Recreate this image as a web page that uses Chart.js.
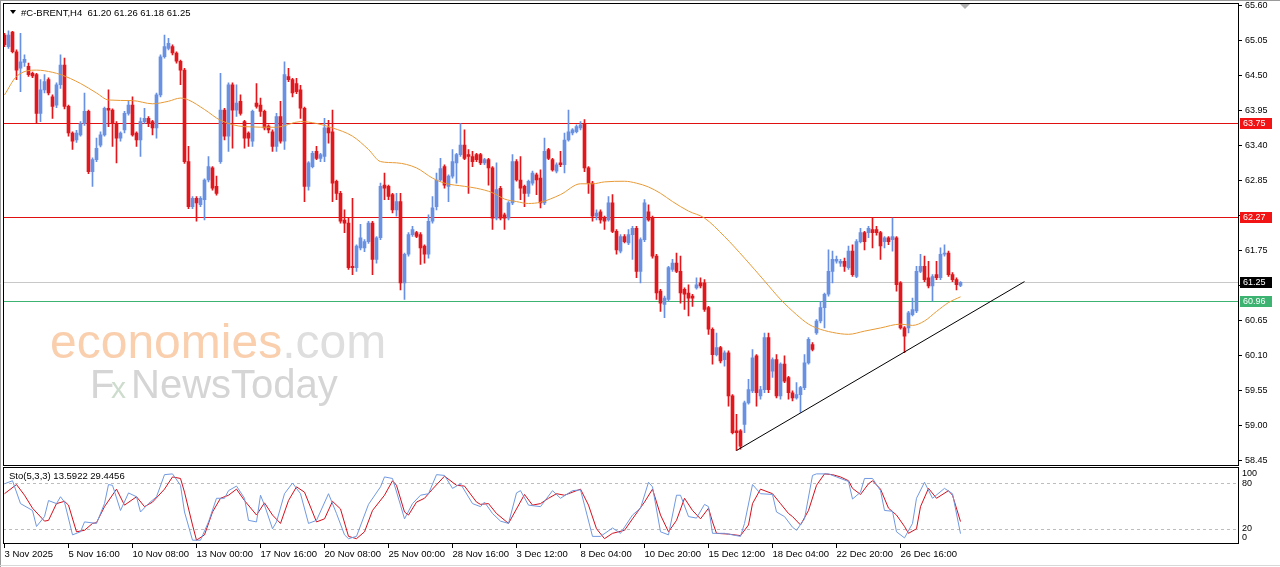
<!DOCTYPE html>
<html>
<head>
<meta charset="utf-8">
<script src="https://cdn.jsdelivr.net/npm/chart.js@4.4.1/dist/chart.umd.min.js"></script>
<style>
html, body { margin: 0; padding: 0; background: #fff; }
#chart { display: block; }
</style>
</head>
<body>
<canvas id="chart" width="1280" height="567"></canvas>
<script>
// H4 candles, index 0 = 3 Nov 2025 00:00
const opens = [
  65.14,64.96,65.19,64.88,64.62,64.71,64.65,64.54,64.52,63.91,
  64.28,64.44,64.17,64.04,64.36,64.67,64.02,63.60,63.49,63.57,
  63.75,63.94,62.99,63.18,63.41,63.57,63.99,63.96,63.75,63.52,
  63.65,63.91,64.04,63.60,63.49,63.78,63.83,63.78,63.68,64.20,
  64.80,64.93,64.96,64.86,64.73,64.59,63.15,62.44,62.57,62.47,
  62.55,62.86,63.05,62.76,63.15,63.96,63.55,64.36,63.96,64.10,
  63.78,63.60,63.47,64.07,64.04,63.94,63.71,63.62,63.39,63.86,
  63.47,64.49,64.44,64.38,64.28,63.99,62.76,63.07,63.31,63.20,
  63.23,63.68,63.62,62.84,62.65,62.23,62.18,61.50,61.48,61.79,
  61.79,61.89,62.18,61.61,61.95,62.78,62.76,62.63,62.39,62.52,
  61.24,61.69,62.00,62.03,62.00,61.82,61.69,62.21,62.44,62.86,
  63.07,62.76,62.92,63.13,63.26,63.41,63.26,63.23,63.26,63.26,
  63.13,63.18,63.05,62.26,62.73,62.31,62.26,62.50,63.15,62.86,
  62.76,62.65,62.81,62.94,62.89,62.50,63.34,63.18,63.00,63.13,
  63.10,63.49,63.60,63.62,63.68,63.75,63.05,62.81,62.29,62.36,
  62.26,62.23,62.50,62.05,61.74,61.97,61.87,62.00,62.10,61.42,
  61.92,62.36,62.26,61.66,61.11,60.90,60.98,61.45,61.55,61.42,
  61.14,61.08,61.03,61.16,61.24,61.24,60.85,60.51,60.11,60.22,
  60.03,60.14,59.46,58.91,58.91,59.01,59.35,59.54,60.09,59.46,
  59.56,60.38,59.85,60.03,59.46,59.96,59.75,59.51,59.43,59.48,
  59.59,59.98,60.27,60.45,60.64,60.85,61.06,61.42,61.58,61.55,
  61.58,61.48,61.74,61.34,61.89,62.03,62.03,62.08,62.08,62.03,
  61.89,61.95,61.92,61.95,61.24,60.53,60.53,60.74,60.80,61.42,
  61.50,61.32,61.19,61.37,61.32,61.69,61.71,61.37,61.29,61.20
];
const highs = [
  65.17,65.21,65.20,64.91,65.17,64.83,64.70,64.56,64.54,64.44,
  64.52,64.47,64.20,64.39,64.83,64.78,64.04,63.62,63.64,63.78,
  64.23,63.96,63.21,63.52,63.62,64.01,64.28,63.98,63.78,63.62,
  63.94,64.10,64.17,63.62,63.84,63.99,63.86,63.80,64.23,64.83,
  65.14,65.09,64.99,64.88,64.75,64.62,63.39,62.60,62.60,62.60,
  62.88,63.23,63.07,62.92,64.54,63.99,64.39,64.39,64.36,64.20,
  63.80,63.62,63.96,64.38,64.15,63.96,63.73,63.65,63.91,64.10,
  64.72,64.62,64.46,64.46,64.35,64.01,63.15,63.31,63.39,63.28,
  63.83,63.80,63.96,62.86,62.68,62.39,62.26,62.57,61.84,62.16,
  61.92,62.21,62.21,61.97,62.81,62.97,62.78,62.65,62.65,62.65,
  61.71,62.03,62.13,62.05,62.03,61.84,62.31,62.60,62.97,63.20,
  63.10,62.94,63.34,63.28,63.75,63.65,63.34,63.31,63.28,63.28,
  63.20,63.20,63.07,63.13,62.76,62.34,62.52,63.26,63.18,63.23,
  62.78,62.86,63.00,62.97,63.02,63.52,63.36,63.20,63.13,63.31,
  63.60,63.96,63.67,63.73,63.78,63.81,63.07,62.84,62.39,62.39,
  62.29,62.60,62.63,62.08,62.00,62.00,62.08,62.13,62.13,61.95,
  62.55,62.47,62.29,61.69,61.14,61.03,61.50,61.61,61.71,61.66,
  61.16,61.21,61.06,61.32,61.32,61.29,60.87,60.53,60.45,60.24,
  60.17,60.17,59.48,59.17,58.93,59.38,59.72,60.19,60.11,59.61,
  60.45,60.45,60.06,60.11,59.98,60.09,59.77,59.54,59.67,59.61,
  60.11,60.38,60.30,60.66,60.95,61.08,61.76,61.74,61.66,61.61,
  61.63,61.82,61.84,61.92,62.10,62.05,62.13,62.26,62.13,62.05,
  61.97,61.97,62.26,61.97,61.26,60.55,60.79,61.00,61.50,61.69,
  61.66,61.58,61.37,61.58,61.79,61.84,61.74,61.40,61.32,61.26
];
const lows = [
  64.96,64.93,64.86,64.44,64.25,64.65,64.49,64.47,63.76,63.78,
  64.23,64.20,63.83,64.00,64.30,63.98,63.55,63.34,63.45,63.55,
  63.72,62.96,62.76,63.15,63.38,63.55,63.70,63.39,63.13,63.47,
  63.60,63.88,63.55,63.39,63.23,63.75,63.70,63.57,63.52,64.17,
  64.78,64.91,64.83,64.70,64.36,63.12,62.41,62.41,62.21,62.44,
  62.23,62.83,62.70,62.62,63.12,63.49,63.31,63.36,63.86,63.88,
  63.36,63.39,63.39,63.99,63.86,63.65,63.60,63.31,63.31,63.44,
  63.34,64.41,64.17,64.22,63.83,62.52,62.70,63.05,63.18,63.15,
  63.15,63.44,62.52,62.55,62.18,62.03,61.45,61.37,61.42,61.76,
  61.73,61.86,61.37,61.55,61.92,62.55,62.55,62.34,62.29,61.13,
  60.98,61.66,61.97,61.95,61.53,61.55,61.63,62.18,62.39,62.84,
  62.73,62.52,62.89,62.81,63.23,63.18,62.65,63.07,63.15,63.10,
  63.10,62.78,62.08,62.23,62.23,62.08,62.23,62.47,62.84,62.55,
  62.44,62.60,62.78,62.63,62.42,62.47,63.18,63.00,62.97,63.07,
  62.97,63.47,63.57,63.60,63.65,62.99,62.65,62.21,62.23,62.18,
  62.08,62.21,62.03,61.69,61.71,61.87,61.84,61.61,61.32,61.24,
  61.89,62.21,61.63,60.98,60.79,60.69,60.95,61.42,61.40,60.92,
  60.82,60.72,60.87,61.14,61.16,60.79,60.43,59.96,60.09,59.98,
  59.93,59.30,58.86,58.60,58.62,58.88,59.33,59.51,59.30,59.41,
  59.51,59.51,59.75,59.43,59.41,59.67,59.41,59.38,59.41,59.20,
  59.56,59.96,60.17,60.43,60.61,60.53,61.03,61.24,61.55,61.50,
  61.42,61.45,61.34,61.32,61.87,61.76,61.95,61.79,61.99,61.61,
  61.79,61.84,61.74,61.11,60.51,60.14,60.45,60.72,60.77,61.40,
  61.26,61.16,60.95,61.29,61.29,61.66,61.34,61.26,61.13,61.18
];
const closes = [
  64.99,65.14,64.88,64.59,64.72,64.76,64.52,64.50,63.91,64.28,
  64.41,64.23,64.02,64.36,64.67,64.02,63.60,63.47,63.60,63.75,
  63.94,62.99,63.18,63.36,63.57,63.99,63.96,63.75,63.52,63.60,
  63.91,64.04,63.57,63.49,63.78,63.83,63.75,63.68,64.20,64.80,
  64.96,65.01,64.86,64.73,64.59,63.15,62.44,62.57,62.50,62.57,
  62.86,63.07,62.73,62.65,63.96,63.55,64.36,63.96,64.07,63.91,
  63.52,63.52,63.94,64.02,63.94,63.68,63.65,63.39,63.86,63.47,
  64.52,64.44,64.23,64.25,63.99,62.76,63.13,63.28,63.20,63.26,
  63.68,63.60,62.81,62.65,62.21,62.18,61.48,61.48,61.82,61.95,
  61.89,62.18,61.61,61.95,62.76,62.73,62.60,62.39,62.52,61.24,
  61.69,62.00,62.08,61.97,61.79,61.69,62.21,62.42,62.86,63.04,
  62.78,62.92,63.15,63.26,63.41,63.20,63.23,63.15,63.18,63.13,
  63.18,63.05,62.26,62.71,62.26,62.26,62.50,63.15,62.86,62.73,
  62.65,62.84,62.97,62.86,62.50,63.31,63.20,63.02,63.10,63.10,
  63.49,63.62,63.65,63.70,63.73,63.05,62.81,62.29,62.34,62.23,
  62.21,62.50,62.05,61.76,61.97,61.89,62.00,62.10,61.42,61.92,
  62.50,62.23,61.66,61.08,60.92,61.00,61.48,61.55,61.42,61.08,
  61.06,61.00,61.00,61.21,61.19,60.82,60.51,60.11,60.22,60.01,
  60.14,59.46,58.88,58.88,58.67,59.35,59.56,60.06,59.51,59.56,
  60.38,59.56,60.03,59.46,59.96,59.69,59.51,59.43,59.48,59.59,
  59.98,60.35,60.19,60.64,60.85,61.06,61.42,61.61,61.61,61.58,
  61.50,61.74,61.37,61.89,62.03,61.89,62.10,62.03,62.03,61.82,
  61.95,61.89,61.97,61.21,60.53,60.40,60.77,60.82,61.42,61.50,
  61.29,61.19,61.34,61.32,61.69,61.71,61.37,61.29,61.21,61.25
];

// moving average: [bar index, price]
const maLine = [
  [0,64.20],[3,64.49],[8,64.59],[10,64.58],[14,64.52],[19,64.38],[23,64.23],[26,64.12],
  [32,64.11],[37,64.06],[41,64.10],[44,64.15],[46,64.12],[50,63.97],[54,63.80],[60,63.70],
  [68,63.69],[74,63.78],[78,63.75],[82,63.68],[87,63.55],[91,63.34],[94,63.15],[98,63.13],
  [103,63.05],[107,62.89],[110,62.81],[115,62.76],[118,62.73],[122,62.66],[125,62.56],[128,62.52],
  [131,62.49],[134,62.51],[139,62.63],[144,62.80],[147,62.80],[150,62.83],[155,62.84],[158,62.81],
  [161,62.75],[164,62.65],[167,62.52],[171,62.37],[175,62.26],[180,61.97],[185,61.63],[190,61.27],
  [194,60.98],[198,60.74],[201,60.59],[203,60.53],[207,60.46],[211,60.43],[215,60.48],[219,60.53],
  [224,60.59],[227,60.57],[230,60.64],[233,60.79],[236,60.93],[239,61.02]
];

// stochastic (5,3,3): [bar index, value]
const stochK = [
  [0,79],[2,83],[4,53],[7,44],[8,23],[10,36],[11,57],[13,53],[14,62],[15,55],[17,12],[19,16],
  [20,29],[23,27],[25,53],[26,78],[27,77],[29,44],[31,67],[33,62],[34,42],[36,53],[38,62],[40,91],
  [42,92],[44,77],[45,42],[47,5],[49,5],[51,29],[53,60],[55,60],[56,70],[58,76],[60,60],[61,31],
  [63,29],[64,64],[65,51],[67,20],[68,29],[70,66],[72,80],[74,66],[76,27],[78,31],[81,66],[83,40],
  [85,12],[86,7],[88,10],[91,52],[94,75],[95,88],[97,86],[99,51],[100,33],[102,53],[104,64],[106,66],
  [108,91],[110,90],[112,73],[114,79],[117,53],[119,49],[120,55],[122,40],[124,30],[126,27],[128,67],
  [129,70],[131,51],[134,49],[137,70],[139,60],[142,70],[144,71],[145,51],[147,10],[149,10],[152,21],
  [154,14],[157,38],[159,47],[161,81],[162,75],[164,16],[166,12],[168,64],[169,64],[171,36],[173,34],
  [175,52],[176,49],[177,14],[180,14],[184,10],[185,27],[187,78],[189,66],[192,65],[193,42],[195,36],
  [197,22],[198,18],[200,33],[202,90],[203,92],[206,92],[208,88],[211,82],[212,59],[214,68],[215,86],
  [217,86],[219,70],[220,44],[222,43],[223,16],[225,8],[227,27],[228,60],[230,81],[232,60],[235,73],
  [237,66],[239,13.59]
];
const stochD = [
  [0,66],[3,78],[5,64],[7,47],[10,30],[11,31],[13,53],[15,56],[16,51],[18,16],[20,18],[22,27],
  [23,28],[25,49],[28,72],[30,51],[33,62],[35,49],[37,55],[40,72],[42,88],[44,86],[45,68],[47,25],
  [48,5],[50,12],[52,42],[54,60],[56,64],[58,72],[60,57],[63,38],[65,54],[67,38],[69,27],[71,57],
  [73,75],[75,68],[78,29],[80,33],[82,56],[84,46],[86,10],[88,7],[90,16],[92,44],[95,64],[97,83],
  [98,77],[100,42],[101,38],[103,55],[105,60],[107,72],[110,89],[113,77],[115,76],[118,55],[119,52],
  [121,53],[123,40],[126,27],[130,65],[132,51],[134,53],[136,60],[138,66],[140,64],[144,72],[146,51],
  [148,20],[150,7],[152,14],[155,18],[157,33],[160,55],[162,72],[164,38],[166,16],[168,31],[170,60],
  [172,44],[174,33],[176,47],[177,29],[178,14],[181,13],[184,11],[186,25],[187,53],[189,72],[192,66],
  [194,53],[196,40],[197,36],[199,25],[201,44],[203,77],[205,92],[207,91],[209,88],[211,83],[212,73],
  [214,65],[216,79],[217,83],[219,72],[221,47],[223,38],[225,23],[226,14],[228,20],[229,49],[231,73],
  [233,60],[236,70],[237,64],[239,29.45]
];

// support trendline drawn on the chart
const trendLine = [[183,58.60],[255,61.26]];

// horizontal levels and their tags
const levelValues = [63.75, 62.27, 61.25, 60.96];
const levelColors = ['#e01010', '#e01010', '#c8c8c8', '#3cb371'];
const levelTagColors = ['#f21414', '#f21414', '#000000', '#3cb371'];

const yTicks = [65.60,65.05,64.50,63.95,63.40,62.85,62.30,61.75,61.20,60.65,60.10,59.55,59.00,58.45];
const stochTicks = [100, 80, 20, 0];
const xTickIdx = [0,16,32,48,64,80,96,112,128,144,160,176,192,208,224];
const xTickLabels = ["3 Nov 2025","5 Nov 16:00","10 Nov 08:00","13 Nov 00:00","17 Nov 16:00",
  "20 Nov 08:00","25 Nov 00:00","28 Nov 16:00","3 Dec 12:00","8 Dec 04:00","10 Dec 20:00",
  "15 Dec 12:00","18 Dec 04:00","22 Dec 20:00","26 Dec 16:00"];

const FONT = '"Liberation Sans", Arial, sans-serif';
const upColor = '#6891e4';
const downColor = '#e3161c';

const bars = opens.map((o, i) => i);
const candleColors = bars.map(i => closes[i] >= opens[i] ? upColor : downColor);

const overlay = {
  id: 'overlay',
  beforeDatasetsDraw(chart) {
    const ctx = chart.ctx;
    const y = chart.scales.y, y2 = chart.scales.y2, area = chart.chartArea;
    ctx.save();
    // watermark
    ctx.textBaseline = 'alphabetic';
    ctx.font = '48px ' + FONT;
    ctx.fillStyle = '#f9cfae';
    ctx.fillText('economies', 50, 358);
    const w = ctx.measureText('economies').width;
    ctx.fillStyle = '#dedede';
    ctx.fillText('.com', 50 + w, 358);
    ctx.font = '40px ' + FONT;
    ctx.fillStyle = '#d5d5d5';
    ctx.fillText('F', 90, 398);
    ctx.font = '30px ' + FONT;
    ctx.fillStyle = '#cddccd';
    ctx.fillText('x', 111, 398);
    ctx.font = '40px ' + FONT;
    ctx.fillStyle = '#d5d5d5';
    ctx.fillText('NewsToday', 131, 398);

    // horizontal levels
    levelValues.forEach((v, k) => {
      const py = Math.round(y.getPixelForValue(v));
      ctx.fillStyle = levelColors[k];
      ctx.fillRect(area.left, py, area.right - area.left, 1);
    });
    // stochastic levels
    ctx.setLineDash([3, 3]);
    ctx.strokeStyle = '#bdbdbd';
    ctx.lineWidth = 1;
    [80, 20].forEach(v => {
      const py = Math.round(y2.getPixelForValue(v)) + 0.5;
      ctx.beginPath();
      ctx.moveTo(area.left, py);
      ctx.lineTo(area.right, py);
      ctx.stroke();
    });
    ctx.restore();
  },
  afterDraw(chart) {
    const ctx = chart.ctx;
    const y = chart.scales.y, y2 = chart.scales.y2, area = chart.chartArea;
    ctx.save();
    // panel frames
    ctx.strokeStyle = '#000';
    ctx.lineWidth = 1;
    const midTop = Math.round(y.bottom);
    ctx.strokeRect(area.left + 0.5, area.top + 0.5, area.right - area.left, midTop - 1 - area.top);
    ctx.strokeRect(area.left + 0.5, midTop + 1.5, area.right - area.left, area.bottom - midTop - 2);
    // window edge
    ctx.strokeStyle = '#9a9a9a';
    ctx.beginPath();
    ctx.moveTo(0, 0.5); ctx.lineTo(1280, 0.5);
    ctx.moveTo(0.5, 0); ctx.lineTo(0.5, 567);
    ctx.stroke();
    ctx.strokeStyle = '#d8d8d8';
    ctx.beginPath();
    ctx.moveTo(0, 565.5); ctx.lineTo(1280, 565.5);
    ctx.stroke();

    // level tags on the price axis
    ctx.font = '9px ' + FONT;
    ctx.textBaseline = 'middle';
    levelValues.forEach((v, k) => {
      const py = Math.round(y.getPixelForValue(v));
      ctx.fillStyle = levelTagColors[k];
      ctx.fillRect(area.right + 2, py - 5, 32, 11);
      ctx.fillStyle = '#fff';
      ctx.fillText(v.toFixed(2), area.right + 5, py + 0.5);
    });

    // stochastic scale labels
    ctx.fillStyle = '#000';
    stochTicks.forEach(v => {
      let py = y2.getPixelForValue(v);
      if (v === 100) py += 6;
      if (v === 0) py -= 6;
      ctx.fillText(String(v), area.right + 4, py);
    });

    // header texts
    ctx.font = '9.5px ' + FONT;
    ctx.fillText('#C-BRENT,H4  61.20 61.26 61.18 61.25', 21, 13);
    ctx.fillText('Sto(5,3,3) 13.5922 29.4456', 9, 476);
    ctx.beginPath();
    ctx.moveTo(10, 10); ctx.lineTo(16, 10); ctx.lineTo(13, 14); ctx.closePath();
    ctx.fill();
    // chart shift marker
    ctx.fillStyle = '#b0b0b0';
    ctx.beginPath();
    ctx.moveTo(960, 4); ctx.lineTo(970, 4); ctx.lineTo(965, 9); ctx.closePath();
    ctx.fill();
    ctx.restore();
  }
};

new Chart(document.getElementById('chart'), {
  type: 'bar',
  data: {
    datasets: [
      {
        label: 'body',
        data: bars.map(i => ({ x: i, y: [opens[i], closes[i]] })),
        backgroundColor: candleColors,
        borderWidth: 0,
        barThickness: 3,
        minBarLength: 1,
        grouped: false,
        order: 1,
        yAxisID: 'y'
      },
      {
        label: 'wick',
        data: bars.map(i => ({ x: i, y: [lows[i], highs[i]] })),
        backgroundColor: candleColors,
        borderWidth: 0,
        barThickness: 1,
        grouped: false,
        order: 2,
        yAxisID: 'y'
      },
      {
        type: 'line',
        label: 'MA',
        data: maLine.map(p => ({ x: p[0], y: p[1] })),
        borderColor: '#e89a35',
        borderWidth: 1,
        pointRadius: 0,
        cubicInterpolationMode: 'monotone',
        order: 0,
        yAxisID: 'y'
      },
      {
        type: 'line',
        label: 'trend',
        data: trendLine.map(p => ({ x: p[0], y: p[1] })),
        borderColor: '#000',
        borderWidth: 1,
        pointRadius: 0,
        order: 0,
        yAxisID: 'y'
      },
      {
        type: 'line',
        label: '%K',
        data: stochK.map(p => ({ x: p[0], y: p[1] })),
        borderColor: '#7099e0',
        borderWidth: 1,
        pointRadius: 0,
        order: 0,
        yAxisID: 'y2'
      },
      {
        type: 'line',
        label: '%D',
        data: stochD.map(p => ({ x: p[0], y: p[1] })),
        borderColor: '#d40f1c',
        borderWidth: 1,
        pointRadius: 0,
        order: 0,
        yAxisID: 'y2'
      }
    ]
  },
  options: {
    responsive: false,
    animation: false,
    events: [],
    layout: { padding: { left: 3, top: 3, right: 0, bottom: 0 } },
    plugins: { legend: { display: false }, tooltip: { enabled: false } },
    scales: {
      x: {
        type: 'linear',
        position: 'bottom',
        min: -0.375,
        max: 308.375,
        offset: false,
        grid: { display: true, drawOnChartArea: false, drawTicks: true, tickLength: 4, color: '#000', offset: false },
        border: { display: false },
        afterBuildTicks: s => { s.ticks = xTickIdx.map(v => ({ value: v })); },
        ticks: {
          autoSkip: false, maxRotation: 0, minRotation: 0, align: 'start', padding: 1,
          color: '#000', font: { family: FONT, size: 9.5 },
          callback: (v, k) => xTickLabels[k]
        },
        afterFit: s => { s.height = 23; s.paddingLeft = 0; s.paddingRight = 0; }
      },
      y: {
        type: 'linear',
        position: 'right',
        stack: 'panels',
        stackWeight: 462.5,
        min: 58.364,
        max: 65.647,
        bounds: 'data',
        grid: { drawOnChartArea: false, drawTicks: true, tickLength: 4, color: '#000' },
        border: { display: false },
        afterBuildTicks: s => { s.ticks = yTicks.map(v => ({ value: v })); },
        ticks: {
          autoSkip: false, padding: 3, color: '#000', font: { family: FONT, size: 9 },
          callback: v => Number(v).toFixed(2)
        },
        afterFit: s => { s.width = 42; s.paddingTop = 0; s.paddingBottom = 0; }
      },
      y2: {
        type: 'linear',
        position: 'right',
        stack: 'panels',
        stackWeight: 78.5,
        min: 0,
        max: 103,
        bounds: 'data',
        grid: { display: false },
        border: { display: false },
        ticks: { display: false },
        afterFit: s => { s.width = 42; s.paddingTop = 0; s.paddingBottom = 0; }
      }
    }
  },
  plugins: [overlay]
});
</script>
</body>
</html>
